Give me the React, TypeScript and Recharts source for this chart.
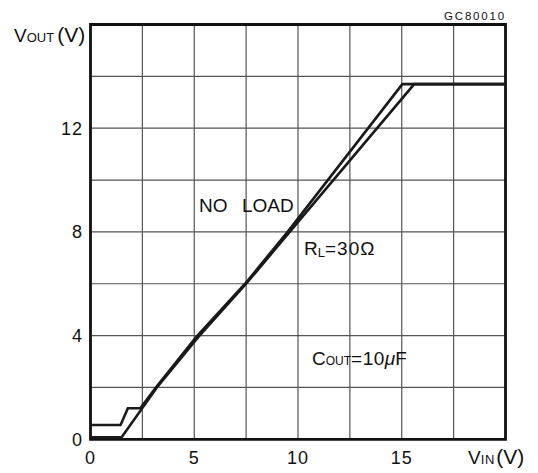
import React from 'react';
import { LineChart, Line, XAxis, YAxis, CartesianGrid, ReferenceArea } from 'recharts';

const xGridTicks = [0, 2.5, 5, 7.5, 10, 12.5, 15, 17.5, 20];
const yGridTicks = [0, 2, 4, 6, 8, 10, 12, 14, 16];
const xLabelTicks = [0, 5, 10, 15];
const yLabelTicks = [0, 4, 8, 12];

// NO LOAD curve (small offset at low input, step, then linear, saturates ~15 V)
const noLoadVin = [0, 1.45, 1.8, 2.4, 3.15, 5.1, 7.45, 9.5, 15.03, 20];
const noLoadVout = [0.55, 0.55, 1.2, 1.2, 2.0, 3.95, 6.0, 8.0, 13.7, 13.7];

// RL = 30 ohm curve
const rlVin = [0, 1.5, 3.2, 5.2, 7.5, 9.6, 15.6, 20];
const rlVout = [0.08, 0.08, 2.0, 3.95, 6.0, 8.0, 13.7, 13.7];

const noLoadData = noLoadVin.map((v, i) => ({ vin: v, vout: noLoadVout[i] }));
const rlData = rlVin.map((v, i) => ({ vin: v, vout: rlVout[i] }));

const FONT = '"Liberation Sans", Arial, Helvetica, sans-serif';

const XTick = (props: any) => {
  const { x, payload } = props;
  if (!xLabelTicks.includes(payload.value)) return <g />;
  return (
    <text x={x} y={464} textAnchor="middle" fontSize={18} fontFamily={FONT} fill="#111" letterSpacing={1}>
      {payload.value}
    </text>
  );
};

const YTick = (props: any) => {
  const { y, payload } = props;
  if (!yLabelTicks.includes(payload.value)) return <g />;
  return (
    <text x={83} y={y + 6.5} textAnchor="end" fontSize={18} fontFamily={FONT} fill="#111" letterSpacing={1}>
      {payload.value}
    </text>
  );
};

export default function App() {
  return (
    <div style={{ position: 'absolute', left: 0, top: 0, width: 538, height: 473, background: '#fff' }}>
      <LineChart
        width={538}
        height={473}
        margin={{ top: 24.5, right: 32.5, left: 0, bottom: 0 }}
      >
        <CartesianGrid stroke="#555" strokeWidth={1.2} />
        <XAxis
          dataKey="vin"
          type="number"
          domain={[0, 20]}
          ticks={xGridTicks}
          allowDataOverflow
          height={33.7}
          tickLine={false}
          axisLine={false}
          tick={<XTick />}
          interval={0}
        />
        <YAxis
          type="number"
          domain={[0, 16]}
          ticks={yGridTicks}
          allowDataOverflow
          width={90.5}
          tickLine={false}
          axisLine={false}
          tick={<YTick />}
          interval={0}
        />
        <ReferenceArea x1={0} x2={20} y1={0} y2={16} fill="none" fillOpacity={0} stroke="#111" strokeWidth={2.8} ifOverflow="visible" />
        <Line
          data={rlData}
          dataKey="vout"
          type="linear"
          dot={false}
          stroke="#1a1a1a"
          strokeWidth={2.6}
          isAnimationActive={false}
        />
        <Line
          data={noLoadData}
          dataKey="vout"
          type="linear"
          dot={false}
          stroke="#1a1a1a"
          strokeWidth={2.6}
          isAnimationActive={false}
        />
      </LineChart>
      <svg
        width={538}
        height={473}
        style={{ position: 'absolute', left: 0, top: 0, pointerEvents: 'none' }}
        fontFamily={FONT}
        fill="#111"
      >
        <text x={475} y={19.5} fontSize={11.5} textAnchor="middle" letterSpacing={1.8}>GC80010</text>
        <text x={14} y={41.5}>
          <tspan fontSize={19}>V</tspan>
          <tspan fontSize={13}>OUT</tspan>
          <tspan fontSize={21} dx={3}>(V)</tspan>
        </text>
        <text x={468} y={463.5}>
          <tspan fontSize={19}>V</tspan>
          <tspan fontSize={13} letterSpacing={0.8}>IN</tspan>
          <tspan fontSize={21} dx={1}>(V)</tspan>
        </text>
        <text x={199} y={211.5} fontSize={19}>NO</text>
        <text x={242} y={211.5} fontSize={19}>LOAD</text>
        <text x={304} y={255}>
          <tspan fontSize={19}>R</tspan>
          <tspan fontSize={13} dy={2}>L</tspan>
          <tspan fontSize={19} dy={-2} letterSpacing={1}>=30Ω</tspan>
        </text>
        <text x={312} y={365}>
          <tspan fontSize={19}>C</tspan>
          <tspan fontSize={12}>OUT</tspan>
          <tspan fontSize={19} letterSpacing={0.5}>=10</tspan>
          <tspan fontSize={19} fontStyle="italic">μ</tspan>
          <tspan fontSize={19}>F</tspan>
        </text>
      </svg>
    </div>
  );
}
